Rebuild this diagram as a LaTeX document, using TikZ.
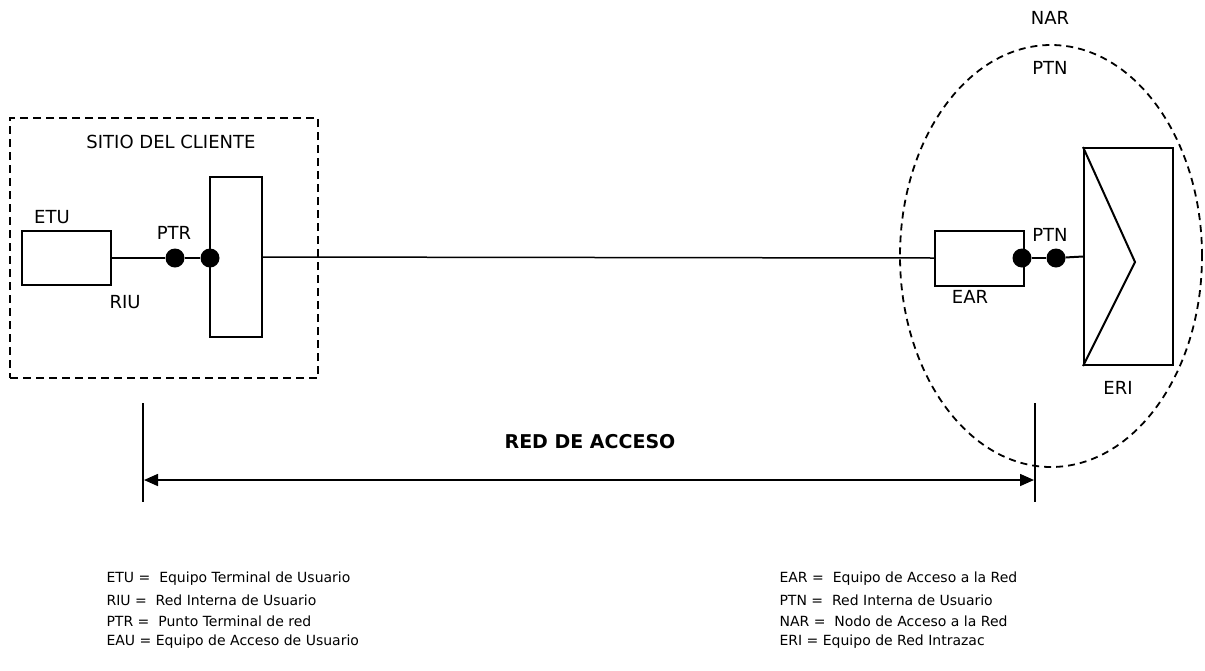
\documentclass[tikz,border=0pt]{standalone}
\usepackage{fontspec}
\setmainfont{DejaVu Sans}
\usetikzlibrary{arrows.meta,shapes.geometric}

\begin{document}
\begin{tikzpicture}[x=1pt,y=-1pt,
    box/.style={draw,line width=2pt,inner sep=0pt},
    dot/.style={circle,fill=black,minimum size=19pt,inner sep=0pt},
    lbl/.style={font=\fontsize{18}{20}\selectfont},
    legend/.style={anchor=west,font=\fontsize{14}{16}\selectfont}]
                \useasboundingbox (0,0) rectangle (1205,670);

                % sitio del cliente
                \node[draw,dash pattern=on 8pt off 5pt,line width=2pt,minimum width=308pt,minimum height=260pt] (sitio) at (164,248) {};
                \node[lbl] (sitiotxt) at (171,142) {SITIO DEL CLIENTE};

                \node[box,minimum width=89pt,minimum height=54pt] (etu) at (66.5,258) {};
                \node[box,minimum width=52pt,minimum height=160pt] (eau) at (236,257) {};
                \node[dot] (ptr1) at (175,258) {};
                \node[dot] (ptr2) at (210,258) {};

                \node[lbl] (etutxt) at (52,217) {ETU};
                \node[lbl] (ptrtxt) at (174,233) {PTR};
                \node[lbl] (riutxt) at (125,302) {RIU};

                % nodo de acceso
                \node[draw,dash pattern=on 7pt off 5pt,ellipse,line width=1.8pt,minimum width=302pt,minimum height=422pt,inner sep=0pt] (nodo) at (1051,256) {};
                \node[box,minimum width=89pt,minimum height=55pt] (ear) at (979.5,258) {};
                \node[box,minimum width=89pt,minimum height=217pt] (eri) at (1128.5,256.5) {};
                \node[dot] (ptn1) at (1022,258) {};
                \node[dot] (ptn2) at (1056,258) {};
                \draw[line width=2pt] (eri.north west) -- (1135,262) -- (eri.south west);

                \node[lbl] (eartxt) at (970,297) {EAR};
                \node[lbl] (ptntxt) at (1050,235) {PTN};
                \node[lbl] (eritxt) at (1118,388) {ERI};
                \node[lbl] (nartxt) at (1050,18) {NAR};
                \node[lbl] (ptntop) at (1050,68) {PTN};

                \draw[line width=2pt] (etu.east) -- (ptr1);
                \draw[line width=2.5pt] (ptr1) -- (ptr2);
                \draw[line width=1.5pt] (eau.east) -- (ear.west);
                \draw[line width=2.5pt] (ptn1) -- (ptn2);
                \draw[line width=2pt] (ptn2) -- (eri.west);

                % red de acceso
                \coordinate (ltop) at (143,403);
                \coordinate (lbot) at (143,502);
                \coordinate (rtop) at (1035,403);
                \coordinate (rbot) at (1035,502);
                \draw[line width=2pt] (ltop) -- (lbot);
                \draw[line width=2pt] (rtop) -- (rbot);
                \draw[line width=1.6pt,{Triangle[length=14pt,width=12pt]}-{Triangle[length=14pt,width=12pt]}] (144,480) -- (1034,480);
                \node[font=\bfseries\fontsize{19}{21}\selectfont] (red) at (590,442) {RED DE ACCESO};

                % leyenda
                \node[legend] (l1) at (103,579) {ETU =\ \ Equipo Terminal de Usuario};
                \node[legend] (l2) at (103,600) {RIU =\ \ Red Interna de Usuario};
                \node[legend] (l3) at (103,621) {PTR =\ \ Punto Terminal de red};
                \node[legend] (l4) at (103,642) {EAU = Equipo de Acceso de Usuario};
                \node[legend] (r1) at (776,579) {EAR =\ \ Equipo de Acceso a la Red};
                \node[legend] (r2) at (776,600) {PTN =\ \ Red Interna de Usuario};
                \node[legend] (r3) at (776,621) {NAR =\ \ Nodo de Acceso a la Red};
                \node[legend] (r4) at (776,642) {ERI = Equipo de Red Intrazac};
            \end{tikzpicture}
\end{document}
